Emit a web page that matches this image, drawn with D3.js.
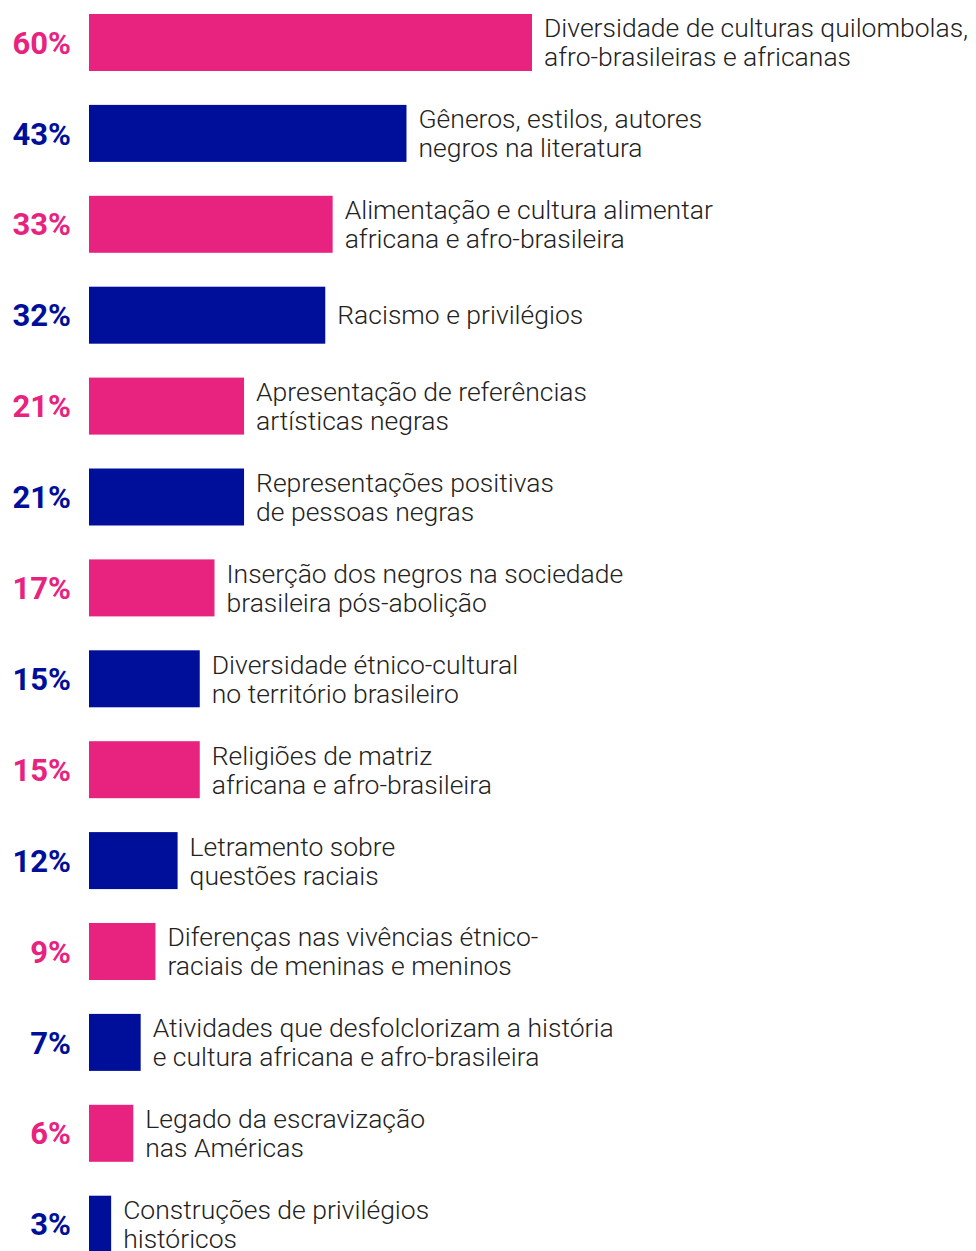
<!DOCTYPE html>
<html>
<head>
<meta charset="utf-8">
<script src="https://cdn.jsdelivr.net/npm/d3@7"></script>
<style>
  body { margin: 0; background: #fff; }
  svg { display: block; }
</style>
</head>
<body>
<div id="chart"></div>
<script>
var temas = [
  ["Diversidade de culturas quilombolas,", "afro-brasileiras e africanas"],
  ["Gêneros, estilos, autores", "negros na literatura"],
  ["Alimentação e cultura alimentar", "africana e afro-brasileira"],
  ["Racismo e privilégios"],
  ["Apresentação de referências", "artísticas negras"],
  ["Representações positivas", "de pessoas negras"],
  ["Inserção dos negros na sociedade", "brasileira pós-abolição"],
  ["Diversidade étnico-cultural", "no território brasileiro"],
  ["Religiões de matriz", "africana e afro-brasileira"],
  ["Letramento sobre", "questões raciais"],
  ["Diferenças nas vivências étnico-", "raciais de meninas e meninos"],
  ["Atividades que desfolclorizam a história", "e cultura africana e afro-brasileira"],
  ["Legado da escravização", "nas Américas"],
  ["Construções de privilégios", "históricos"]
];
var percentuais = [60, 43, 33, 32, 21, 21, 17, 15, 15, 12, 9, 7, 6, 3];
var cores = ["#e8237f", "#000f9a"];

var width = 976, height = 1251;
var margin = { top: 14, left: 89 };
var passo = 90.9;

var data = percentuais.map(function (v, i) {
  return { id: i, valor: v, linhas: temas[i] };
});

var svg = d3.select("#chart").append("svg")
  .attr("width", width)
  .attr("height", height);

var xScale = d3.scaleLinear()
  .domain([0, 60])
  .range([0, 443]);

var yScale = d3.scaleBand()
  .domain(data.map(function (d) { return d.id; }))
  .range([margin.top, margin.top + data.length * passo])
  .paddingInner(0.373)
  .paddingOuter(0.373 / 2)
  .align(0);

var g = svg.append("g");

var rows = g.selectAll(".row").data(data).enter()
  .append("g").attr("class", "row");

// barras
rows.append("rect")
  .attr("x", margin.left)
  .attr("y", function (d) { return yScale(d.id); })
  .attr("width", function (d) { return xScale(d.valor); })
  .attr("height", yScale.bandwidth())
  .attr("fill", function (d) { return cores[d.id % 2]; });

// percentuais a esquerda
rows.append("text")
  .attr("x", 71)
  .attr("y", function (d) { return yScale(d.id) + yScale.bandwidth() / 2; })
  .attr("dy", "0.36em")
  .attr("text-anchor", "end")
  .attr("font-family", "Roboto, sans-serif")
  .attr("font-weight", 700)
  .attr("font-size", 31)
  .attr("fill", function (d) { return cores[d.id % 2]; })
  .text(function (d) { return d.valor + "%"; });

// rotulos
var labels = rows.append("text")
  .attr("font-family", "Roboto, sans-serif")
  .attr("font-weight", 300)
  .attr("font-size", 26.5)
  .attr("fill", "#222")
  .attr("transform", function (d) {
    var cy = yScale(d.id) + yScale.bandwidth() / 2;
    var off = d.linhas.length === 1 ? 9 : -5;
    return "translate(" + (margin.left + xScale(d.valor) + 12) + "," + (cy + off) + ")";
  });

labels.selectAll("tspan")
  .data(function (d) { return d.linhas; })
  .enter().append("tspan")
  .attr("x", 0)
  .attr("y", function (d, i) { return i * 29; })
  .text(function (d) { return d; });
</script>
</body>
</html>
